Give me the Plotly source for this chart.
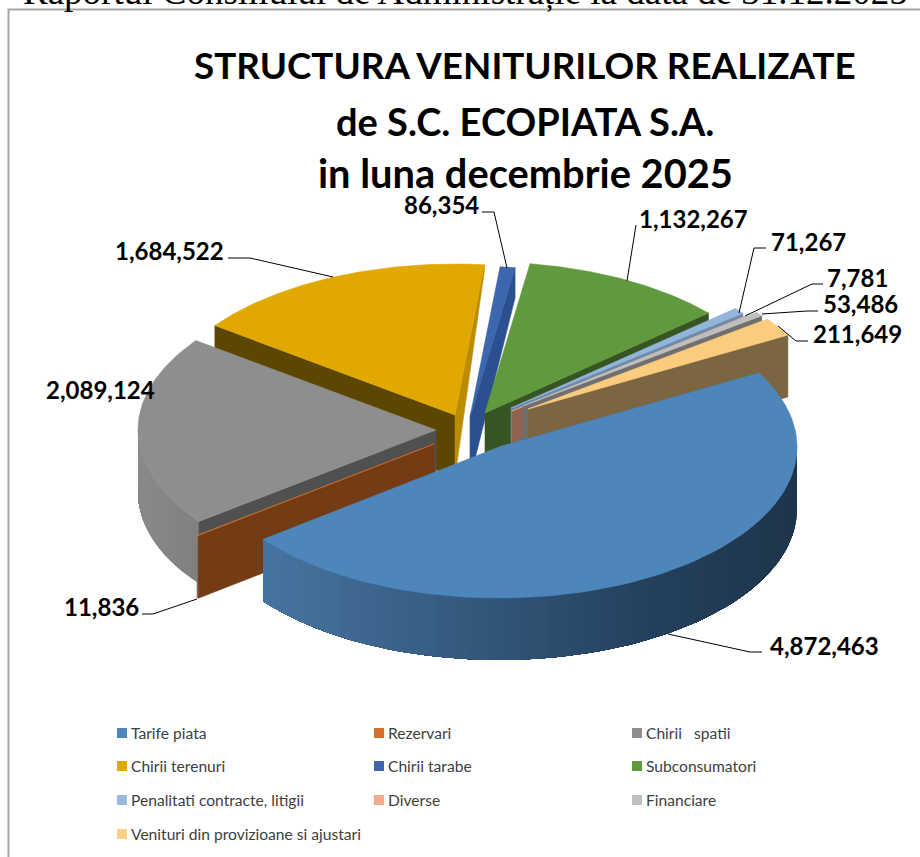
import math
import plotly.graph_objects as go

# ---------- data ----------
categories = ["Tarife piata", "Rezervari", "Chirii   spatii", "Chirii terenuri", "Chirii tarabe",
              "Subconsumatori", "Penalitati contracte, litigii", "Diverse", "Financiare",
              "Venituri din provizioane si ajustari"]
values = [4872463, 11836, 2089124, 1684522, 86354, 1132267, 71267, 7781, 53486, 211649]
value_labels = ["4,872,463", "11,836", "2,089,124", "1,684,522", "86,354", "1,132,267",
                "71,267", "7,781", "53,486", "211,649"]
title_lines = ["STRUCTURA VENITURILOR REALIZATE", "de S.C. ECOPIATA S.A.", "in luna decembrie 2025"]
page_heading = "Raportul Consiliului de Administrație la data de 31.12.2025"

# ---------- style ----------
top_colors = ["#4E86BB", "#D5702A", "#8E8E8E", "#E1A800", "#3C66AE", "#619A3E", "#91B5DC", "#EFA98E", "#BFBFBF", "#FBCC7E"]
legend_colors = ["#4E86BB", "#D5702A", "#8E8E8E", "#E1A800", "#3C66AE", "#619A3E", "#9ABAE0", "#F2A98E", "#BFBFBF", "#FDD083"]
start_face = ["#436F9C", "#733C15", "#505050", "#5C4700", None, None, None, None, None, None]
end_face = [None, None, None, "#BB8C00", "#2B5090", "#365522", "#6F8AA8", "#8F6352", "#6F6F6F", "#7C6642"]

# layout of the exploded pie (pixel-based axes)
RX, RY, H = 298, 151, 62
FIRST_ANGLE = 60.7
apex_x = [499, 434, 436, 455, 470, 485, 511, 512, 523, 528]
apex_y = [447, 444, 430, 415, 417, 413, 408, 411, 406, 409]
end_drop = [H, H, H, 6, 30, H, H, H, H, H]
draw_order = [3, 4, 5, 6, 7, 8, 9, 2, 1, 0]
label_pos = [(768, 645), (62, 606), (44, 389), (113, 250), (402, 204), (637, 218), (769, 241), (825, 277), (821, 303), (811, 333)]
leaders = [
    [(762, 652), (750, 652), (668, 634)], [(142, 614), (153, 614), (197, 599)], None,
    [(228, 258), (250, 258), (333, 277)], [(482, 212), (494, 212), (507, 268)], [(636, 225), (627, 281)],
    [(766, 248), (754, 248), (739, 313)], [(823, 284), (812, 284), (745, 316)],
    [(818, 311), (807, 311), (762, 314)], [(808, 341), (796, 341), (778, 326)],
]
legend_x = [117, 374, 632]
legend_y = [733, 766, 800, 834]
title_sizes = [36.8, 38, 39.8]
title_y = [65, 121, 172]
BLUE_RIM = [(261, (0x47, 0x75, 0xA1)), (480, (0x33, 0x58, 0x7C)), (650, (0x24, 0x41, 0x5E)), (798, (0x1E, 0x35, 0x4A))]
GREY_RIM = [(138, (0x8A, 0x8A, 0x8A)), (200, (0x80, 0x80, 0x80))]


def ramp(stops, x):
    if x <= stops[0][0]:
        return "rgb(%d,%d,%d)" % stops[0][1]
    for (x0, c0), (x1, c1) in zip(stops, stops[1:]):
        if x <= x1:
            t = (x - x0) / (x1 - x0)
            return "rgb(%d,%d,%d)" % tuple(round(a + (b - a) * t) for a, b in zip(c0, c1))
    return "rgb(%d,%d,%d)" % stops[-1][1]


def pt(i, theta):
    a = math.radians(theta)
    return apex_x[i] + RX * math.sin(a), apex_y[i] - RY * math.cos(a)


def poly(fig, pts, color, name, width=0.6):
    xs = [p[0] for p in pts] + [pts[0][0]]
    ys = [p[1] for p in pts] + [pts[0][1]]
    fig.add_trace(go.Scatter(x=xs, y=ys, mode="lines", fill="toself", fillcolor=color,
                             line=dict(color=color, width=width), name=name,
                             hoverinfo="name", showlegend=False))


total = sum(values)
spans, cursor = [], FIRST_ANGLE
for v in values:
    sweep = v / total * 360
    spans.append((cursor, cursor + sweep))
    cursor += sweep

fig = go.Figure()
fig.add_shape(type="rect", x0=8.5, y0=9.5, x1=960, y1=900, line=dict(color="#A6A6A6", width=2),
              fillcolor="white", layer="below")

for i in draw_order:
    a0, a1 = spans[i]
    ax, ay = apex_x[i], apex_y[i]
    name = categories[i]
    # outer rim, painted from one end so that neighbouring bands overlap without seams
    lo, hi = max(a0, 90), min(a1, 270)
    if hi > lo:
        stops = BLUE_RIM if i == 0 else GREY_RIM
        n = max(2, int((hi - lo) / 2))
        for k in range(n):
            t0 = lo + (hi - lo) * k / n
            steps = max(2, int((hi - t0) / 2))
            rim = [pt(i, t0 + (hi - t0) * s / steps) for s in range(steps + 1)]
            strip = rim + [(x, y + H) for x, y in reversed(rim)]
            poly(fig, strip, ramp(stops, pt(i, t0)[0]), name, width=0)
    # cut faces
    if start_face[i]:
        c = pt(i, a0)
        poly(fig, [(ax, ay), c, (c[0], c[1] + H), (ax, ay + H)], start_face[i], name)
    if end_face[i]:
        c = pt(i, a1)
        poly(fig, [(ax, ay), c, (c[0], c[1] + end_drop[i]), (ax, ay + H)], end_face[i], name)
    # top face
    arc = [pt(i, a0 + (a1 - a0) * k / 90) for k in range(91)]
    poly(fig, [(ax, ay)] + arc, top_colors[i], name)

# leader lines
for line in leaders:
    if line:
        fig.add_trace(go.Scatter(x=[p[0] for p in line], y=[p[1] for p in line], mode="lines",
                                 line=dict(color="black", width=1), hoverinfo="skip", showlegend=False))

# value labels
for txt, (x, y) in zip(value_labels, label_pos):
    fig.add_annotation(x=x, y=y, text=txt, showarrow=False, xanchor="left", yanchor="middle",
                       font=dict(family="Lato", size=24, color="black", weight="bold"))

# title
for txt, y, s in zip(title_lines, title_y, title_sizes):
    fig.add_annotation(x=525, y=y, text=txt, showarrow=False, xanchor="center", yanchor="middle",
                       font=dict(family="Lato", size=s, color="black", weight="bold"))

# page heading clipped by the top edge
fig.add_annotation(x=465, y=0, yshift=9, text=page_heading, showarrow=False, xanchor="center", yanchor="middle",
                   font=dict(family="Liberation Serif", size=37, color="black"))

# legend
for i, name in enumerate(categories):
    row, col = divmod(i, 3)
    lx, ly = legend_x[col], legend_y[row]
    fig.add_trace(go.Scatter(x=[lx + 5], y=[ly], mode="markers", name=name,
                             marker=dict(symbol="square", size=10, color=legend_colors[i]),
                             hoverinfo="name", showlegend=False))
    fig.add_annotation(x=lx + 12, y=ly, text=name.replace("   ", "&nbsp;&nbsp;&nbsp;"), showarrow=False, xanchor="left", yanchor="middle",
                       font=dict(family="Lato", size=15.6, color="#404040"))

fig.update_layout(
    width=920, height=857, margin=dict(l=0, r=0, t=0, b=0),
    paper_bgcolor="white", plot_bgcolor="white", showlegend=False,
    xaxis=dict(range=[0, 920], visible=False, fixedrange=True),
    yaxis=dict(range=[857, 0], visible=False, fixedrange=True),
)
fig.write_html("out.html", config={"displayModeBar": False},
               post_script="document.body.style.margin='0';document.body.style.overflow='hidden';")
